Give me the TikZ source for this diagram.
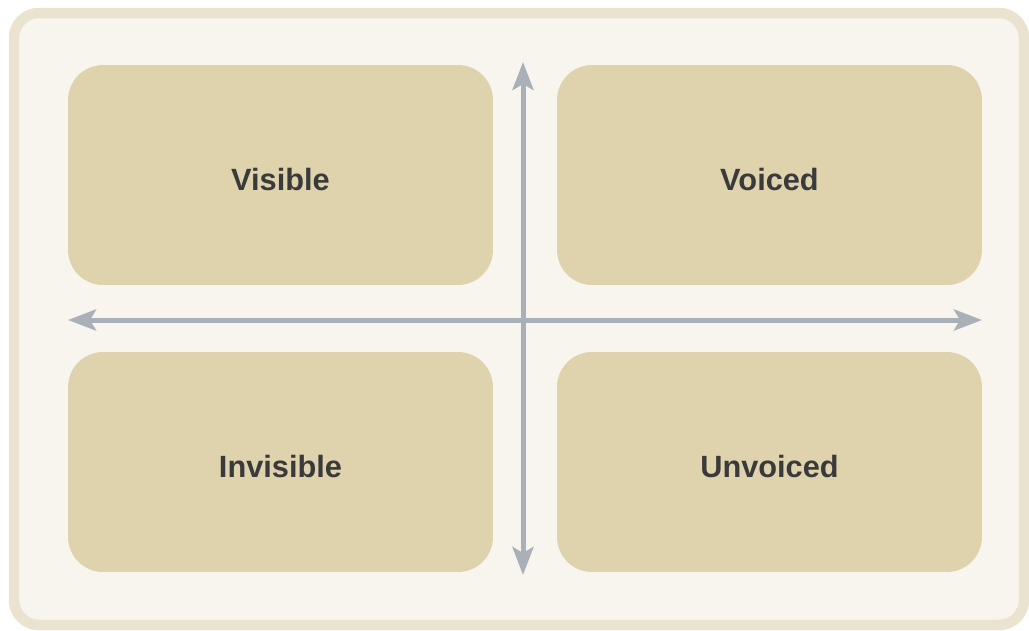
\documentclass[tikz,border=0pt]{standalone}
\usepackage{fontspec}
\setmainfont{Liberation Sans}
\usetikzlibrary{arrows.meta}
\definecolor{framefill}{HTML}{F8F5EE}
\definecolor{framedraw}{HTML}{EAE3CF}
\definecolor{boxfill}{HTML}{DFD3AE}
\definecolor{labeltext}{HTML}{3A3A3A}
\definecolor{axisgray}{HTML}{A9B0B8}
\begin{document}
\begin{tikzpicture}[x=0.02cm,y=-0.02cm,font=\fontsize{17.5}{20}\selectfont\bfseries]
      \tikzstyle{quad box}=[rectangle,fill=boxfill,rounded corners=0.7cm,minimum width=8.5cm,minimum height=4.4cm,text=labeltext,inner sep=0,text height=0.6cm,text depth=0pt]
      \tikzstyle{axis}=[draw=axisgray,line width=0.1cm,{Stealth[length=0.56cm,width=0.42cm,inset=0.12cm]}-{Stealth[length=0.56cm,width=0.42cm,inset=0.12cm]}]
      \useasboundingbox (0,0) rectangle (1029,630);

      % frame
      \draw[framedraw,fill=framefill,line width=0.21cm,rounded corners=0.5cm] (14,13) rectangle (1024,625);

      % quadrants
      \node(visible)[quad box] at (280.5,175){Visible};
      \node(voiced)[quad box] at (769.5,175){Voiced};
      \node(invisible)[quad box] at (280.5,462){Invisible};
      \node(unvoiced)[quad box] at (769.5,462){Unvoiced};

      % axes
      \coordinate(left) at (68,320);
      \coordinate(right) at (982,320);
      \coordinate(top) at (523,62);
      \coordinate(bottom) at (523,575);
      \draw[axis] (left) -- (right);
      \draw[axis] (top) -- (bottom);
\end{tikzpicture}
\end{document}
